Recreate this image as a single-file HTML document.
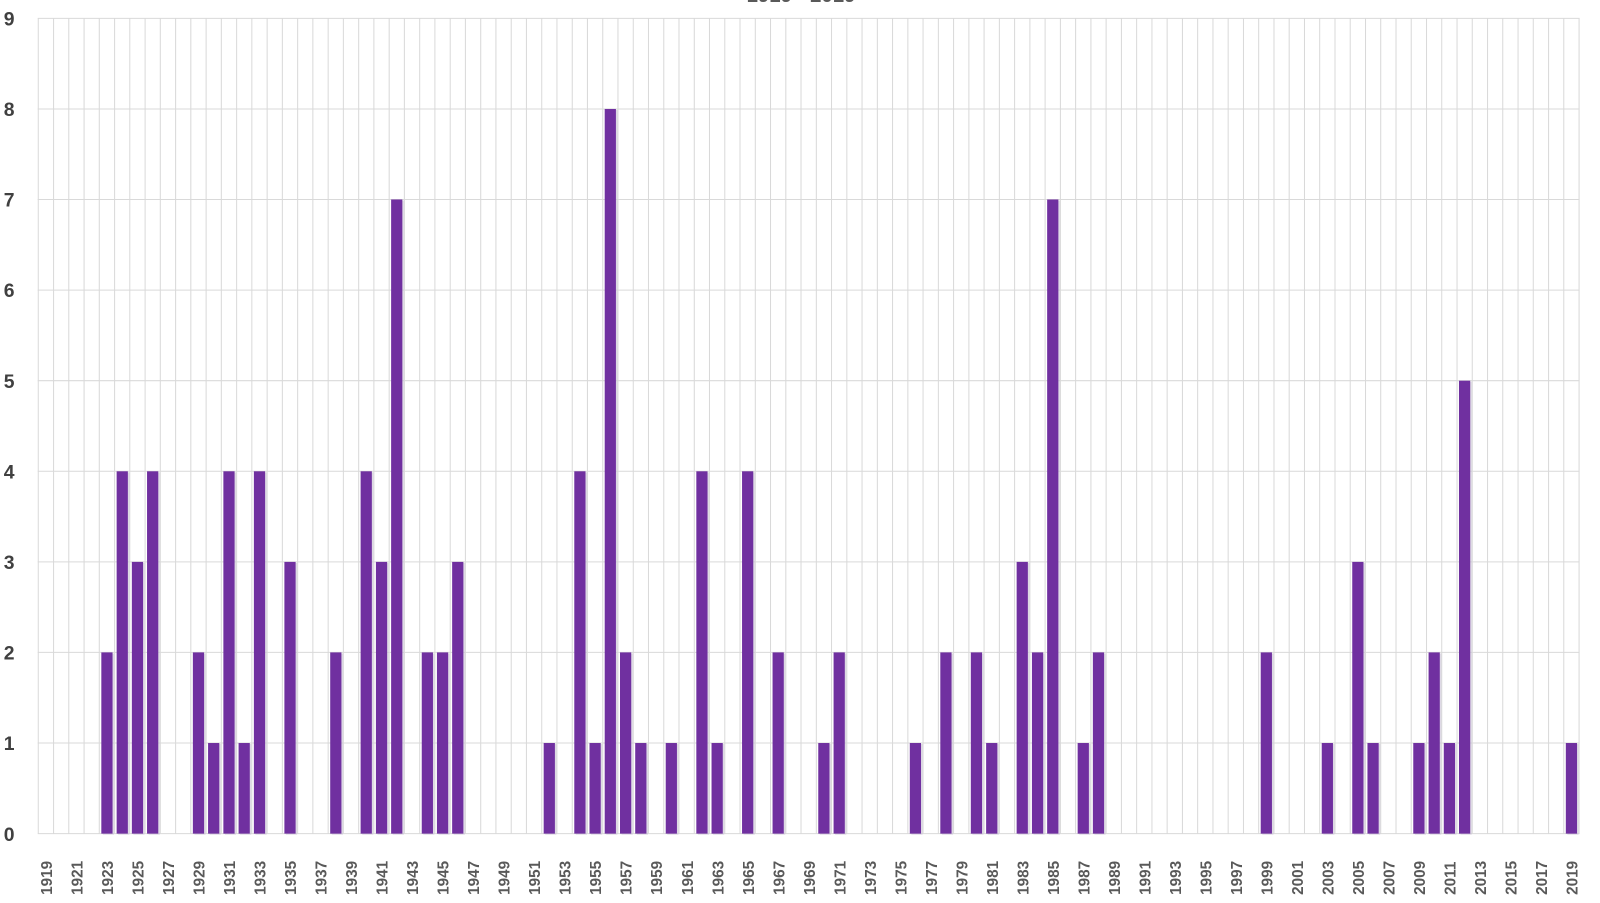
<!DOCTYPE html>
<html><head><meta charset="utf-8"><style>
html,body{margin:0;padding:0;background:#fff;}
svg{display:block;font-family:"Liberation Sans",sans-serif;}
</style></head><body>
<svg id="c" width="1600" height="903" viewBox="0 0 1568 885" preserveAspectRatio="none" xmlns="http://www.w3.org/2000/svg"></svg>
<script>
const s=document.getElementById('c');
const data={1923:2,1924:4,1925:3,1926:4,1929:2,1930:1,1931:4,1932:1,1933:4,1935:3,1938:2,1940:4,1941:3,1942:7,1944:2,1945:2,1946:3,1952:1,1954:4,1955:1,1956:8,1957:2,1958:1,1960:1,1962:4,1963:1,1965:4,1967:2,1970:1,1971:2,1976:1,1978:2,1980:2,1981:1,1983:3,1984:2,1985:7,1987:1,1988:2,1999:2,2003:1,2005:3,2006:1,2009:1,2010:2,2011:1,2012:5,2019:1};
const y0=817,u=88.78,x0=45,dx=14.95;
let h='<rect width="1568" height="885" fill="#fff"/>';
h+='<text x="785" y="2" text-anchor="middle" font-size="20" font-weight="bold" fill="#595959">1919 - 2019</text>';
for(let k=0;k<=101;k++){const x=(x0-dx/2+k*dx).toFixed(1);h+=`<line x1="${x}" y1="18" x2="${x}" y2="${y0}" stroke="#d9d9d9" stroke-width="1"/>`;}
for(let v=0;v<=9;v++){const y=(y0-v*u).toFixed(1);h+=`<line x1="37" y1="${y}" x2="1548" y2="${y}" stroke="#d9d9d9" stroke-width="1"/>`;h+=`<text x="9" y="${(+y+7).toFixed(1)}" text-anchor="middle" font-size="19" font-weight="bold" fill="#404040">${v}</text>`;}
for(const yr in data){const i=yr-1919,x=x0+i*dx,hh=data[yr]*u;h+=`<rect x="${(x-4).toFixed(1)}" y="${(y0-hh+1).toFixed(1)}" width="11" height="${hh.toFixed(1)}" fill="#c8c0d4" opacity="0.6"/><rect x="${(x-5.5).toFixed(1)}" y="${(y0-hh).toFixed(1)}" width="11" height="${hh.toFixed(1)}" fill="#7030a0"/>`;}
for(let yr=1919;yr<=2019;yr+=2){const x=x0+(yr-1919)*dx+6;h+=`<text transform="translate(${x.toFixed(1)},877) rotate(-90)" font-size="15" font-weight="bold" fill="#595959">${yr}</text>`;}
s.innerHTML=h;
</script>
</body></html>
